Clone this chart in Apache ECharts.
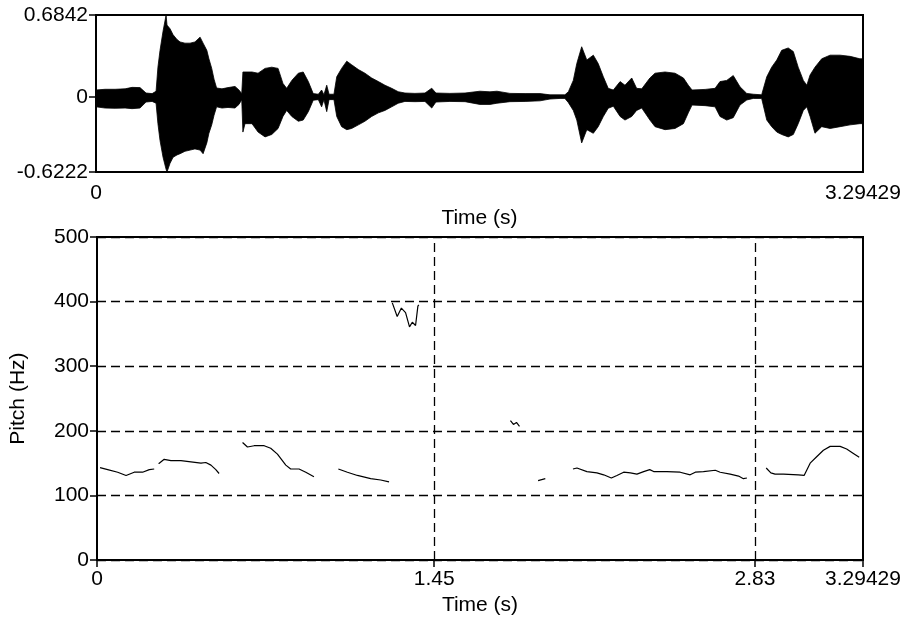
<!DOCTYPE html>
<html>
<head>
<meta charset="utf-8">
<style>
  html, body { margin: 0; padding: 0; background: #fff; }
  #chart { width: 906px; height: 621px; }
</style>
<script src="https://cdn.jsdelivr.net/npm/echarts@6/dist/echarts.min.js"></script>
</head>
<body>
<div id="chart"></div>
<script>
// ---------- DATA ----------
const duration = 3.29429;
const ampMin = -0.6222;
const ampMax = 0.6842;
const ampTicks = [-0.6222, 0, 0.6842];
const waveTimeTicks = [0, 3.29429];
const pitchTimeTicks = [0, 1.45, 2.83, 3.29429];
const pitchGuideTimes = [1.45, 2.83];

// waveform envelope (seconds, upper / lower amplitude)
const waveTime = [0,0.039,0.082,0.125,0.155,0.189,0.215,0.241,0.258,0.266,
  0.275,0.288,0.301,0.305,0.318,0.331,0.348,0.361,0.382,0.404,
  0.425,0.447,0.460,0.476,0.485,0.497,0.507,0.518,0.541,0.567,
  0.597,0.614,0.626,0.631,0.640,0.670,0.696,0.726,0.755,0.782,
  0.803,0.819,0.841,0.869,0.890,0.912,0.933,0.955,0.969,0.979,
  0.991,1.001,1.022,1.034,1.055,1.077,1.098,1.127,1.155,1.184,
  1.213,1.241,1.270,1.298,1.327,1.370,1.413,1.442,1.460,1.520,
  1.585,1.649,1.692,1.722,1.778,1.843,1.907,1.950,1.993,2.014,
  2.029,2.050,2.065,2.086,2.108,2.136,2.157,2.179,2.200,2.222,
  2.251,2.272,2.301,2.322,2.344,2.379,2.401,2.444,2.487,2.523,
  2.544,2.560,2.616,2.659,2.680,2.709,2.737,2.766,2.795,2.823,
  2.859,2.881,2.902,2.924,2.945,2.973,2.995,3.016,3.038,3.053,
  3.067,3.088,3.117,3.153,3.196,3.239,3.281,3.294];
const waveUpper = [0.06,0.066,0.066,0.07,0.082,0.08,0.035,0.03,0.05,0.25,
  0.39,0.55,0.684,0.60,0.57,0.52,0.48,0.46,0.45,0.45,
  0.46,0.50,0.45,0.39,0.32,0.24,0.15,0.077,0.07,0.08,
  0.09,0.06,0.03,0.21,0.21,0.21,0.20,0.24,0.25,0.24,
  0.115,0.074,0.14,0.20,0.21,0.13,0.03,0.025,0.06,0.02,
  0.10,0.025,0.025,0.17,0.24,0.30,0.27,0.23,0.20,0.16,
  0.13,0.10,0.074,0.046,0.035,0.032,0.035,0.075,0.035,0.032,
  0.035,0.05,0.045,0.05,0.032,0.03,0.03,0.02,0.02,0.02,
  0.046,0.14,0.28,0.42,0.31,0.35,0.28,0.17,0.074,0.06,
  0.13,0.10,0.16,0.074,0.07,0.16,0.20,0.21,0.20,0.16,
  0.10,0.06,0.065,0.074,0.13,0.14,0.18,0.087,0.032,0.025,
  0.02,0.17,0.25,0.31,0.39,0.41,0.38,0.25,0.14,0.10,
  0.185,0.25,0.32,0.35,0.35,0.34,0.32,0.32];
const waveLower = [-0.08,-0.09,-0.092,-0.09,-0.095,-0.09,-0.04,-0.035,-0.05,-0.22,
  -0.36,-0.50,-0.60,-0.6222,-0.55,-0.50,-0.48,-0.47,-0.45,-0.44,
  -0.43,-0.44,-0.47,-0.38,-0.30,-0.23,-0.15,-0.08,-0.09,-0.085,
  -0.09,-0.06,-0.02,-0.29,-0.22,-0.22,-0.29,-0.33,-0.31,-0.26,
  -0.16,-0.11,-0.16,-0.20,-0.19,-0.12,-0.025,-0.02,-0.08,-0.02,
  -0.12,-0.02,-0.02,-0.16,-0.245,-0.27,-0.26,-0.23,-0.20,-0.16,
  -0.13,-0.11,-0.08,-0.05,-0.035,-0.037,-0.035,-0.09,-0.04,-0.035,
  -0.037,-0.06,-0.06,-0.05,-0.037,-0.035,-0.03,-0.015,-0.01,-0.01,
  -0.045,-0.11,-0.19,-0.38,-0.27,-0.30,-0.245,-0.16,-0.092,-0.075,
  -0.16,-0.19,-0.16,-0.11,-0.09,-0.19,-0.245,-0.27,-0.26,-0.22,
  -0.13,-0.065,-0.07,-0.08,-0.16,-0.19,-0.17,-0.065,-0.023,-0.01,
  -0.01,-0.19,-0.245,-0.29,-0.31,-0.33,-0.31,-0.22,-0.11,-0.08,
  -0.16,-0.30,-0.245,-0.26,-0.245,-0.23,-0.22,-0.22];

// pitch contour segments: [time (s), pitch (Hz)]
const pitchSeg1 = [[0.013,143],[0.046,140],[0.089,136],[0.125,131],[0.160,136],[0.196,136],[0.225,140],[0.246,141]];
const pitchSeg2 = [[0.265,149],[0.289,156],[0.318,154],[0.361,154],[0.404,152],[0.447,150],[0.468,151],[0.490,147],[0.511,140],[0.525,134]];
const pitchSeg3 = [[0.626,182],[0.647,175],[0.676,177],[0.719,177],[0.747,173],[0.776,164],[0.812,147],[0.833,141],[0.869,141],[0.898,136],[0.933,129]];
const pitchSeg4 = [[1.038,141],[1.077,136],[1.120,131],[1.177,126],[1.220,124],[1.256,121]];
const pitchSeg5 = [[1.270,398],[1.291,377],[1.309,390],[1.327,383],[1.344,361],[1.356,368],[1.370,363],[1.380,393],[1.384,395]];
const pitchSeg6 = [[1.778,216],[1.791,210],[1.804,213],[1.817,207]];
const pitchSeg7 = [[1.897,123],[1.928,126]];
const pitchSeg8 = [[2.047,141],[2.064,142.5],[2.107,137],[2.150,135],[2.179,132],[2.212,127],[2.236,131],[2.265,136],[2.294,135],[2.322,133],
  [2.351,137],[2.377,140],[2.394,137],[2.451,137],[2.508,136],[2.551,132],[2.573,136],[2.608,137],[2.659,139],[2.680,136],
  [2.723,133],[2.759,130],[2.780,126],[2.795,127]];
const pitchSeg9 = [[2.878,142.5],[2.898,135],[2.916,133],[2.952,133],[3.016,132],[3.041,131],[3.067,150],[3.095,160],[3.124,170],[3.153,176],
  [3.196,176],[3.224,172],[3.253,165],[3.278,159]];
const pitchSegments = [pitchSeg1,pitchSeg2,pitchSeg3,pitchSeg4,pitchSeg5,pitchSeg6,pitchSeg7,pitchSeg8,pitchSeg9];

// ---------- CHART ----------
const FONT = 'Liberation Sans, Arial, sans-serif';
const FS = 21;
const chart = echarts.init(document.getElementById('chart'), null, {renderer: 'canvas'});

const pitchData = [];
pitchSegments.forEach((seg, i) => {
  if (i > 0) pitchData.push([seg[0][0], null]);
  seg.forEach(p => pitchData.push(p));
});

const labelStyle = {color: '#000', fontFamily: FONT, fontSize: FS};
const axisLineStyle = {show: true, lineStyle: {color: '#000', width: 2}};
const tickStyle = {show: true, length: 7, inside: false, lineStyle: {color: '#000', width: 1.5}};
const fmt = v => String(v);

chart.setOption({
  animation: false,
  backgroundColor: '#fff',
  grid: [
    {left: 96, top: 15, width: 767, height: 157, show: true, borderColor: '#000', borderWidth: 2, backgroundColor: 'transparent'},
    {left: 96, top: 237, width: 767, height: 326, show: true, borderColor: '#000', borderWidth: 2, backgroundColor: 'transparent'}
  ],
  xAxis: [
    {
      type: 'value', gridIndex: 0, min: 0, max: duration,
      axisLine: axisLineStyle,
      axisTick: Object.assign({}, tickStyle, {customValues: waveTimeTicks}),
      axisLabel: Object.assign({}, labelStyle, {customValues: waveTimeTicks, formatter: fmt, margin: 11}),
      splitLine: {show: false},
      name: 'Time (s)', nameLocation: 'middle', nameGap: 36,
      nameTextStyle: labelStyle
    },
    {
      type: 'value', gridIndex: 1, min: 0, max: duration,
      axisLine: axisLineStyle,
      axisTick: Object.assign({}, tickStyle, {customValues: pitchTimeTicks}),
      axisLabel: Object.assign({}, labelStyle, {customValues: pitchTimeTicks, formatter: fmt, margin: 9}),
      splitLine: {show: false},
      name: 'Time (s)', nameLocation: 'middle', nameGap: 34,
      nameTextStyle: labelStyle
    }
  ],
  yAxis: [
    {
      type: 'value', gridIndex: 0, min: ampMin, max: ampMax,
      axisLine: axisLineStyle,
      axisTick: Object.assign({}, tickStyle, {customValues: ampTicks}),
      axisLabel: Object.assign({}, labelStyle, {customValues: ampTicks, formatter: fmt, margin: 8}),
      splitLine: {show: false}
    },
    {
      type: 'value', gridIndex: 1, min: 0, max: 500, interval: 100,
      axisLine: axisLineStyle,
      axisTick: tickStyle,
      axisLabel: Object.assign({}, labelStyle, {margin: 8}),
      splitLine: {show: true, lineStyle: {color: '#000', width: 1.3, type: [9, 5]}},
      name: 'Pitch (Hz)', nameLocation: 'middle', nameRotate: 90, nameGap: 68,
      nameTextStyle: labelStyle
    }
  ],
  series: [
    {
      type: 'line', xAxisIndex: 0, yAxisIndex: 0, symbol: 'none',
      data: waveTime.map((t, i) => [t, waveUpper[i]]),
      lineStyle: {color: '#000', width: 0.8},
      areaStyle: {color: '#000', opacity: 1, origin: 0}
    },
    {
      type: 'line', xAxisIndex: 0, yAxisIndex: 0, symbol: 'none',
      data: waveTime.map((t, i) => [t, waveLower[i]]),
      lineStyle: {color: '#000', width: 0.8},
      areaStyle: {color: '#000', opacity: 1, origin: 0}
    },
    {
      type: 'line', xAxisIndex: 1, yAxisIndex: 1, symbol: 'none',
      connectNulls: false,
      data: pitchData,
      lineStyle: {color: '#000', width: 1.2},
      markLine: {
        silent: true, symbol: 'none', label: {show: false},
        lineStyle: {color: '#000', width: 1.3, type: [9, 5]},
        data: pitchGuideTimes.map(t => ({xAxis: t}))
      }
    }
  ]
});
</script>
</body>
</html>
